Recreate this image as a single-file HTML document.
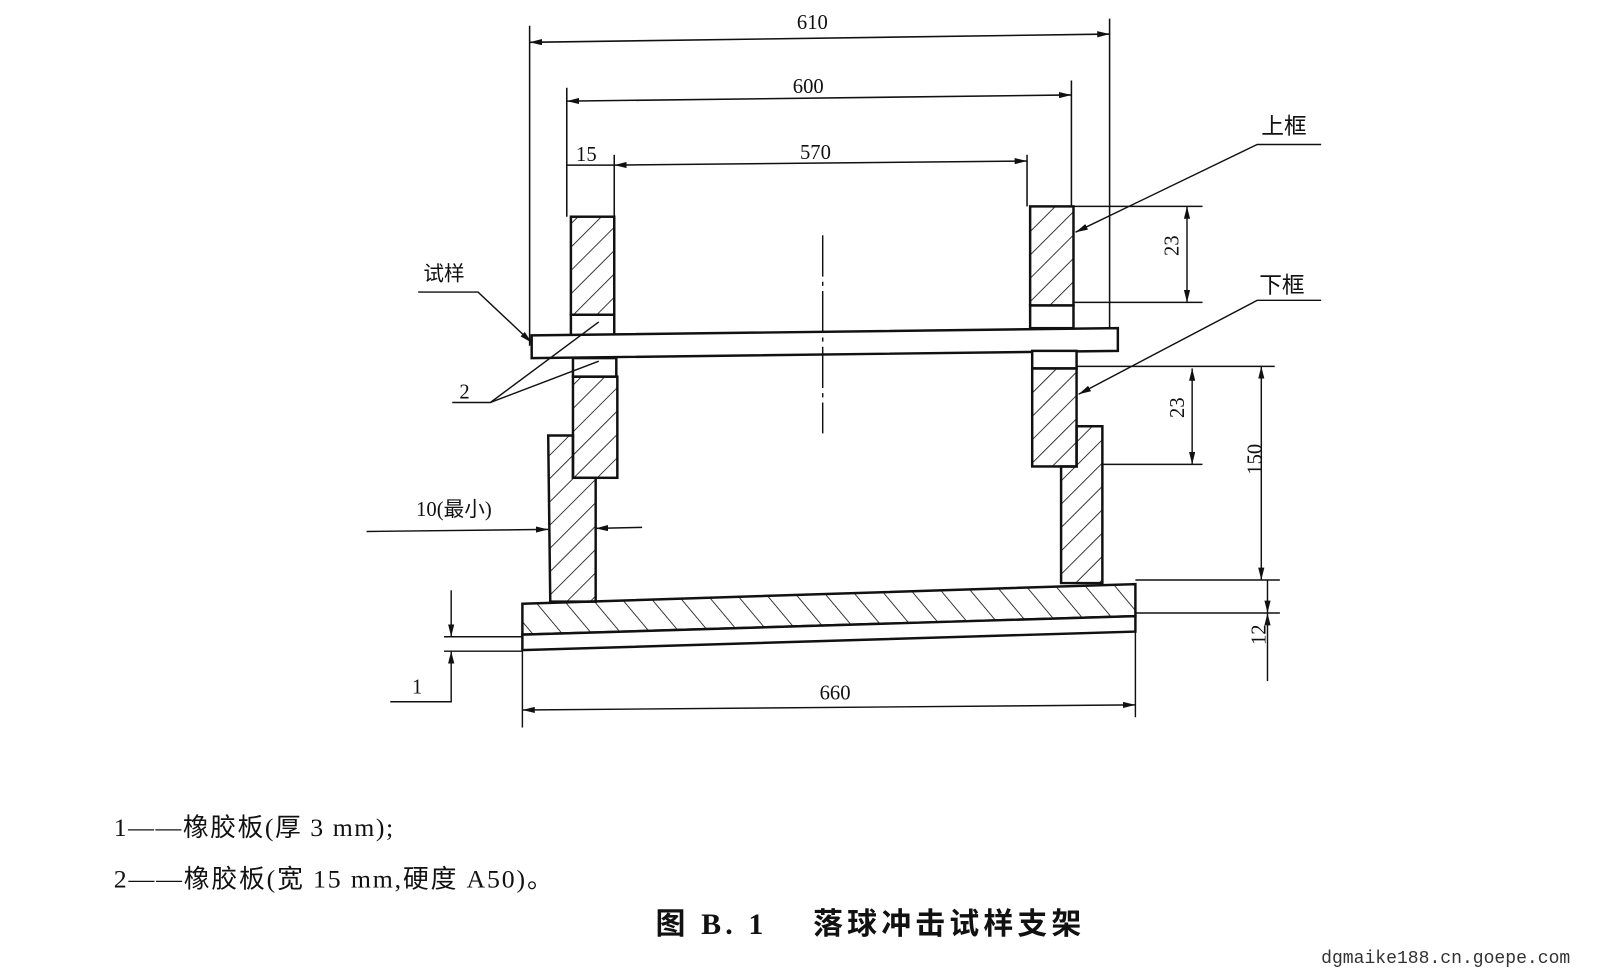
<!DOCTYPE html>
<html><head><meta charset="utf-8"><style>
html,body{margin:0;padding:0;background:#fff;}
svg{display:block;}
text{font-family:"Liberation Serif","Noto Serif CJK SC",serif;fill:#111;}
.cj{font-family:"Liberation Serif","Noto Sans CJK SC",sans-serif;}
.wm{font-family:"Liberation Mono",monospace;fill:#333;}
</style></head><body>
<svg width="1600" height="968" viewBox="0 0 1550 938" xmlns="http://www.w3.org/2000/svg">
<defs>
<pattern id="h1" patternUnits="userSpaceOnUse" width="16" height="16" patternTransform="rotate(45)">
<line x1="0" y1="0" x2="0" y2="16" stroke="#111" stroke-width="1.6"/></pattern>
<pattern id="h2" patternUnits="userSpaceOnUse" width="22" height="22" patternTransform="rotate(-40)">
<line x1="0" y1="0" x2="0" y2="22" stroke="#111" stroke-width="1.6"/></pattern>
<marker id="a" viewBox="0 0 12 6" refX="12" refY="3" markerWidth="12" markerHeight="6" orient="auto-start-reverse" markerUnits="userSpaceOnUse"><path d="M0,0 L12,3 L0,6 z" fill="#111"/></marker>
</defs>
<g stroke="#111" stroke-width="1.5" fill="none">
<line x1="513" y1="25" x2="513" y2="335"/>
<line x1="1075" y1="18" x2="1075" y2="318"/>
<line x1="549" y1="85" x2="549" y2="210"/>
<line x1="1038" y1="78" x2="1038" y2="200"/>
<line x1="595" y1="150" x2="595" y2="210"/>
<line x1="995" y1="150" x2="995" y2="200"/>
<line x1="513" y1="41" x2="1075" y2="33" marker-start="url(#a)" marker-end="url(#a)"/>
<line x1="549" y1="98" x2="1038" y2="92" marker-start="url(#a)" marker-end="url(#a)"/>
<line x1="549" y1="160" x2="595" y2="160"/>
<line x1="595" y1="160" x2="995" y2="156" marker-start="url(#a)" marker-end="url(#a)"/>
</g>
<g stroke="#111" stroke-width="2.4">
<rect x="553" y="210" width="42" height="95" fill="url(#h1)"/>
<rect x="553" y="305" width="42" height="20" fill="#fff"/>
<polygon points="515,325 1083,318 1083,340 515,347" fill="#fff"/>
<rect x="555" y="347" width="42" height="18" fill="#fff"/>
<polygon points="531,422 555,422 555,463 577,463 577,583 533,583" fill="url(#h1)"/>
<rect x="555" y="365" width="43" height="98" fill="url(#h1)"/>
<rect x="998" y="200" width="42" height="96" fill="url(#h1)"/>
<rect x="998" y="296" width="42" height="22" fill="#fff"/>
<rect x="1000" y="340" width="43" height="17" fill="#fff"/>
<polygon points="1043,413 1068,413 1068,565 1028,565 1028,452 1043,452" fill="url(#h1)"/>
<rect x="1000" y="357" width="43" height="95" fill="url(#h1)"/>
<polygon points="506,585 1100,566 1100,597 506,615" fill="url(#h2)"/>
<polygon points="506,615 1100,597 1100,612 506,630" fill="#fff"/>
</g>
<g stroke="#111" stroke-width="1.4" fill="none">
<line x1="797" y1="228" x2="797" y2="420" stroke-dasharray="40,5,4,5"/>
<line x1="1040" y1="200" x2="1165" y2="200"/>
<line x1="1040" y1="293" x2="1165" y2="293"/>
<line x1="1150" y1="200" x2="1150" y2="293" marker-start="url(#a)" marker-end="url(#a)"/>
<line x1="1043" y1="355" x2="1235" y2="355"/>
<line x1="1068" y1="450" x2="1165" y2="450"/>
<line x1="1155" y1="357" x2="1155" y2="450" marker-start="url(#a)" marker-end="url(#a)"/>
<line x1="1100" y1="562" x2="1240" y2="562"/>
<line x1="1222" y1="355" x2="1222" y2="562" marker-start="url(#a)" marker-end="url(#a)"/>
<line x1="1100" y1="594" x2="1240" y2="594"/>
<line x1="1228" y1="562" x2="1228" y2="594" marker-end="url(#a)"/>
<line x1="1228" y1="660" x2="1228" y2="594" marker-end="url(#a)"/>
<line x1="430" y1="617" x2="506" y2="617"/>
<line x1="430" y1="631" x2="506" y2="631"/>
<line x1="437" y1="572" x2="437" y2="617" marker-end="url(#a)"/>
<polyline points="378,680 437,680 437,631" marker-end="url(#a)"/>
<line x1="506" y1="630" x2="506" y2="705"/>
<line x1="1100" y1="612" x2="1100" y2="695"/>
<line x1="506" y1="688" x2="1100" y2="683" marker-start="url(#a)" marker-end="url(#a)"/>
<line x1="355" y1="515" x2="531" y2="513" marker-end="url(#a)"/>
<line x1="622" y1="511" x2="577" y2="512" marker-end="url(#a)"/>
<polyline points="405,283 463,283 515,332" marker-end="url(#a)"/>
<polyline points="438,390 475,390 580,312"/>
<line x1="475" y1="390" x2="580" y2="350"/>
<polyline points="1280,140 1218,140 1042,225" marker-end="url(#a)"/>
<polyline points="1280,291 1218,291 1045,382" marker-end="url(#a)"/>
</g>
<g font-size="20">
<text x="772" y="28">610</text>
<text x="768" y="90">600</text>
<text x="775" y="154">570</text>
<text x="558" y="156">15</text>
<text x="1128" y="262" transform="rotate(-90 1128 248)">23</text>
<text x="1133" y="419" transform="rotate(-90 1133 405)">23</text>
<text x="1208" y="474" transform="rotate(-90 1208 460)">150</text>
<text x="1212" y="639" transform="rotate(-90 1212 625)">12</text>
<text x="399" y="672">1</text>
<text x="794" y="678">660</text>
<text x="445" y="386">2</text>
<text x="403" y="500" class="cj">10(最小)</text>
<text x="410" y="272" class="cj">试样</text>
<text x="1222" y="130" class="cj" font-size="22">上框</text>
<text x="1220" y="284" class="cj" font-size="22">下框</text>
</g>
<text x="110" y="810" class="cj" font-size="25" letter-spacing="1.5">1——橡胶板(厚 3 mm);</text>
<text x="110" y="860" class="cj" font-size="25" letter-spacing="1.8">2——橡胶板(宽 15 mm,硬度 A50)。</text>
<text x="635" y="905" class="cj" font-size="29" font-weight="bold" letter-spacing="4">图 B. 1　 落球冲击试样支架</text>
<text x="1280" y="933" class="wm" font-size="17.5">dgmaike188.cn.goepe.com</text>
</svg>
</body></html>
